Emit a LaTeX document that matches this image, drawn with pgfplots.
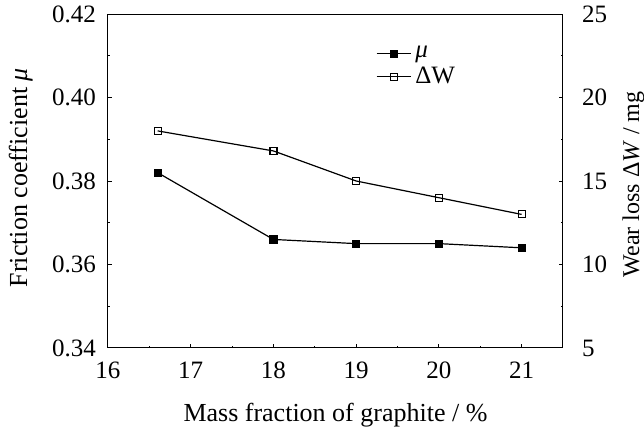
\documentclass[border=0pt]{standalone}
\usepackage{fontspec}
\setmainfont{Liberation Serif}
\usepackage{pgfplots}
\usepackage{pgfplotstable}
\pgfplotsset{compat=1.18}

% mass fraction of graphite (%), friction coefficient, wear loss (mg)
\pgfplotstableread{
x     mu     dW
16.6  0.382  18.0
18    0.366  16.8
19    0.365  15.0
20    0.365  14.0
21    0.364  13.0
}\wear

\pgfplotsset{
  common/.style={
    scale only axis, width=227.5pt, height=167pt,
    xmin=16, xmax=21.5,
    tick align=inside,
    major tick length=2pt, minor tick length=1.2pt,
    tick style={black, line width=0.5pt},
    axis line style={line width=0.5pt},
    /pgf/number format/assume math mode=true,
    every tick label/.append style={font=\fontsize{12.5}{14}\selectfont},
    label style={font=\fontsize{13}{15}\selectfont},
  },
  series/.style={black, line width=0.6pt, mark size=1.75pt},
}

\begin{document}
\begin{tikzpicture}
\path[use as bounding box] (-54pt,-40.5pt) rectangle (268pt,174pt);
\begin{axis}[
    common,
    ymin=0.34, ymax=0.42,
    xtick={16,17,18,19,20,21}, minor x tick num=1,
    ytick={0.34,0.36,0.38,0.40,0.42}, minor y tick num=1,
    xtick pos=bottom, ytick pos=left,
    yticklabel style={/pgf/number format/fixed, /pgf/number format/fixed zerofill,
        /pgf/number format/precision=2, xshift=-2.5pt},
    xticklabel style={yshift=-3.5pt},
    xlabel={Mass fraction of graphite / \%},
    ylabel={Friction coefficient \textit{μ}},
    xlabel style={at={(axis description cs:0.5,0)}, anchor=north, yshift=-24pt},
    ylabel style={at={(axis description cs:-0.15,0.51)}, anchor=south},
]
\addplot[series, mark=square*] table[x=x, y=mu] {\wear};
\end{axis}
\begin{axis}[
    common,
    ymin=5, ymax=25,
    hide x axis,
    axis y line*=right,
    ytick={5,10,15,20,25}, minor y tick num=1,
    yticklabel style={xshift=6pt},
    ylabel={Wear loss Δ\textit{W} / mg},
    ylabel style={at={(axis description cs:1.115,0.49)}, anchor=north,
        font=\fontsize{12}{14}\selectfont},
    legend style={draw=none, fill=none, at={(axis description cs:0.575,0.843)},
        anchor=west, font=\fontsize{12.5}{14}\selectfont, row sep=-1pt},
    legend cell align=left,
]
\addlegendimage{series, mark=square*}
\addlegendentry{\textit{μ}}
\addplot[series, mark=square, mark options={fill=white}] table[x=x, y=dW] {\wear};
\addlegendentry{ΔW}
\end{axis}
\end{tikzpicture}
\end{document}
